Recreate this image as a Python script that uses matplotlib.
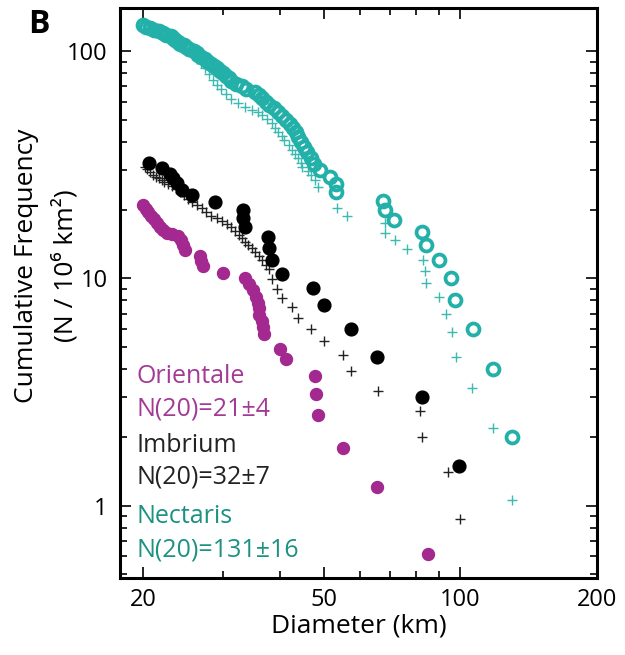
import matplotlib
matplotlib.use("Agg")
import matplotlib.pyplot as plt
from matplotlib.ticker import LogLocator, FixedLocator, NullFormatter, FixedFormatter

plt.rcParams["font.family"] = ["Open Sans", "DejaVu Sans"]

# Orientale, filled circles
ori_d = [20.0, 20.3, 20.5, 20.8, 21.1, 21.5, 21.8, 22.1, 22.6, 23.2, 23.9, 24.2,
         24.5, 24.7, 26.7, 26.8, 27.1, 30.0, 33.5, 34.2, 34.9, 35.4, 35.8, 36.0,
         36.1, 36.5, 36.7, 36.9, 40.0, 41.4, 47.8, 48.2, 48.7, 55.3, 65.7, 85.0]
ori_n = [21.0, 20.1, 19.5, 18.8, 18.2, 17.5, 16.9, 16.4, 15.9, 15.6, 15.3, 14.7,
         14.0, 13.3, 12.5, 11.9, 11.3, 10.6, 10.0, 9.4, 8.9, 8.3, 7.8, 7.4,
         6.9, 6.5, 6.1, 5.7, 4.9, 4.4, 3.7, 3.1, 2.5, 1.8, 1.21, 0.61]

# Imbrium, filled circles
imb_d = [20.6, 22.0, 22.9, 23.3, 23.8, 24.4, 25.6, 28.8, 33.2, 33.2, 33.5,
         37.8, 38.0, 38.4, 40.4, 47.3, 50.2, 57.6, 65.7, 82.5, 99.5]
imb_n = [32.1, 30.5, 28.9, 27.6, 26.2, 24.5, 23.2, 21.6, 19.9, 18.4, 16.8,
         15.2, 13.6, 12.0, 10.5, 9.1, 7.6, 6.0, 4.5, 3.0, 1.5]

# Imbrium, second count (+)
imb2_d = [20.2, 20.4, 20.7, 21.0, 21.4, 21.7, 22.0, 22.3, 22.7, 23.2, 23.6, 24.1,
          24.6, 25.1, 25.6, 26.3, 27.0, 27.6, 28.3, 29.1, 29.8, 30.6, 31.2, 31.9,
          32.5, 33.0, 33.5, 34.0, 34.7, 35.3, 36.0, 36.5, 37.3, 38.0, 38.4, 39.4,
          40.4, 42.7, 43.8, 47.0, 50.2, 55.1, 57.6, 66.0, 81.7, 82.5, 94.1, 100.0]
imb2_n = [30.8, 30.2, 29.3, 28.4, 27.9, 27.6, 27.0, 26.5, 25.9, 25.4, 24.7, 23.9,
          23.2, 22.3, 21.6, 21.0, 20.3, 19.5, 18.9, 18.4, 17.8, 17.3, 16.8, 16.1,
          15.5, 15.0, 14.4, 14.0, 13.6, 13.0, 12.5, 12.1, 11.5, 11.0, 9.9, 9.0,
          8.2, 7.5, 6.7, 6.0, 5.3, 4.6, 3.9, 3.2, 2.6, 2.0, 1.4, 0.87]

# Nectaris, open circles
nec_d = [20.0, 20.3, 20.7, 21.2, 21.7, 22.1, 22.5, 23.0, 23.3, 23.5, 23.9, 24.1,
         24.6, 24.9, 25.3, 25.9, 26.3, 26.5, 26.9, 27.4, 27.8, 28.2, 28.7, 29.1,
         29.5, 30.0, 30.4, 30.9, 31.2, 32.0, 33.0, 33.8, 35.3, 36.0, 36.5, 37.3,
         38.0, 38.8, 39.6, 40.4, 41.3, 42.1, 42.8, 43.4, 43.9, 44.6, 45.3, 46.0,
         46.8, 47.7, 49.0, 51.6, 53.3, 53.3, 67.7, 68.1, 71.6, 82.5, 84.2, 89.9,
         95.5, 97.5, 106.8, 118.2, 130.1]
nec_n = [130, 128, 126, 124, 122, 120, 118, 116, 114, 112, 110, 108,
         106, 104, 102, 100, 98, 96, 94, 92, 90, 88, 86, 84,
         82, 80, 78, 76, 74, 72, 70, 68, 66, 64, 62, 60,
         58, 56, 54, 52, 50, 48, 46, 44, 42, 40, 38, 36,
         34, 32, 30, 28, 26, 24, 22, 20, 18, 16, 14, 12,
         10, 8, 6, 4, 2]

# Nectaris, second count (+)
nec2_d = [20.2, 20.7, 21.4, 22.0, 22.7, 23.4, 24.1, 24.9, 25.6, 26.3, 26.8, 27.4,
          27.9, 28.5, 29.1, 29.7, 30.4, 31.2, 32.4, 33.5, 34.7, 35.8, 36.5, 37.5,
          38.4, 39.0, 39.6, 40.4, 41.0, 41.9, 42.5, 43.2, 43.8, 44.5, 44.9, 46.1,
          47.0, 47.8, 48.5, 53.4, 56.2, 68.1, 68.4, 72.0, 76.5, 82.9, 83.8, 84.2,
          89.9, 93.1, 96.0, 98.0, 106.3, 118.2, 130.1]
nec2_n = [130.2, 126.3, 122.5, 117.7, 113.0, 108.5, 104.1, 100.0, 96.0, 92.2, 88.5, 84.2,
          79.2, 74.5, 70.8, 68.0, 64.6, 61.4, 59.0, 56.7, 55.0, 53.9, 52.3, 50.2,
          48.2, 45.8, 44.0, 42.2, 40.5, 38.5, 36.6, 35.2, 33.8, 32.1, 30.8, 29.6,
          28.4, 27.0, 25.2, 20.3, 18.9, 17.6, 15.9, 14.7, 13.4, 12.1, 10.8, 9.5,
          8.25, 7.0, 5.8, 4.5, 3.3, 2.2, 1.06]

teal = "#22b0a8"
magenta = "#a3288f"

fig = plt.figure(figsize=(6.25, 6.55), dpi=100)
ax = fig.add_axes([0.192, 0.1176, 0.763, 0.8704])

ax.plot(nec2_d, nec2_n, "+", color="#3cb9b1", ms=7, mew=1.0, ls="none")
ax.plot(nec_d, nec_n, "o", mfc="none", mec=teal, ms=8.6, mew=2.7, ls="none")
ax.plot(imb2_d, imb2_n, "+", color="#222222", ms=7, mew=1.0, ls="none")
ax.plot(imb_d, imb_n, "o", color="black", ms=9.2, ls="none")
ax.plot(ori_d, ori_n, "o", color=magenta, ms=8.6, ls="none")

ax.set_xscale("log")
ax.set_yscale("log")
ax.set_xlim(17.8, 200)
ax.set_ylim(0.48, 155)

ax.xaxis.set_major_locator(FixedLocator([20, 50, 100, 200]))
ax.xaxis.set_major_formatter(FixedFormatter(["20", "50", "100", "200"]))
ax.xaxis.set_minor_locator(FixedLocator([30, 40, 60, 70, 80, 90]))
ax.xaxis.set_minor_formatter(NullFormatter())
ax.yaxis.set_major_locator(FixedLocator([0.1, 1, 10, 100, 1000]))
ax.yaxis.set_major_formatter(FixedFormatter(["0.1", "1", "10", "100", "1000"]))
ax.yaxis.set_minor_locator(LogLocator(base=10, subs=range(2, 10)))
ax.yaxis.set_minor_formatter(NullFormatter())

ax.tick_params(which="both", direction="in", top=True, right=True,
               width=1.2, labelsize=17)
ax.tick_params(axis="y", pad=9)
ax.tick_params(axis="x", pad=7)
ax.tick_params(which="major", length=8)
ax.tick_params(which="minor", length=5)
for s in ax.spines.values():
    s.set_linewidth(2.2)

ax.set_xlabel("Diameter (km)", fontsize=19, labelpad=1)
fig.text(0.042, 0.595, "Cumulative Frequency", rotation=90, fontsize=19,
         ha="center", va="center")
fig.text(0.104, 0.595, "(N / 10\u2076 km\u00b2)", rotation=90, fontsize=19,
         ha="center", va="center")
fig.text(0.045, 0.962, "B", fontsize=23, fontweight="bold", ha="left", va="center")

lab = dict(fontsize=18, transform=ax.transAxes, va="center", ha="left")
ax.text(0.035, 0.353, "Orientale", color="#a33a95", **lab)
ax.text(0.035, 0.296, "N(20)=21\u00b14", color="#a33a95", **lab)
ax.text(0.035, 0.233, "Imbrium", color="#222222", **lab)
ax.text(0.035, 0.177, "N(20)=32\u00b17", color="#222222", **lab)
ax.text(0.035, 0.107, "Nectaris", color="#1b9282", **lab)
ax.text(0.035, 0.049, "N(20)=131\u00b116", color="#1b9282", **lab)

fig.savefig("out.png", dpi=100)
